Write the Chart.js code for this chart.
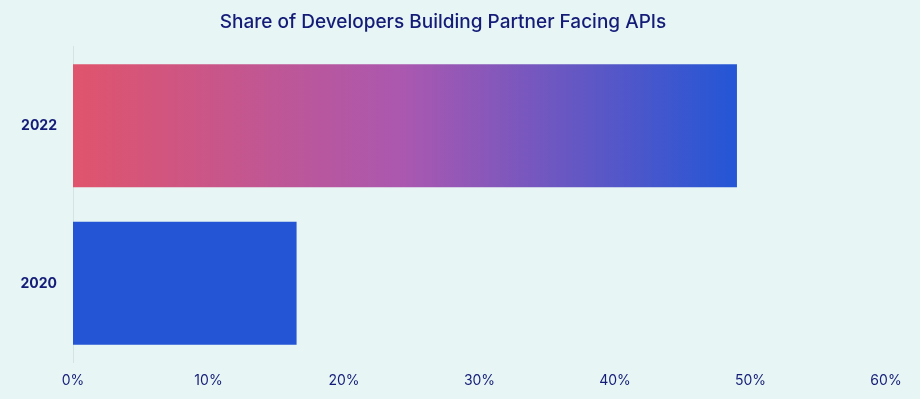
<!DOCTYPE html>
<html>
<head>
<meta charset="utf-8">
<script src="https://cdn.jsdelivr.net/npm/chart.js@4"></script>
<style>
  html, body { margin: 0; padding: 0; background: #e7f6f4; }
  #wrap { width: 920px; height: 399px; position: relative; }
</style>
</head>
<body>
<div id="wrap"><canvas id="c"></canvas></div>
<script>
  // data
  const years = ["2022", "2020"];
  const shares = [49, 16.5];
  const xTicks = [0, 10, 20, 30, 40, 50, 60];

  const navy = "#141c78";

  function barFill(ctx) {
    const chart = ctx.chart;
    const a = chart.chartArea;
    if (!a) return "#2355d4";
    if (ctx.dataIndex === 1) return "#2355d4";
    const x = chart.scales.x;
    const g = chart.ctx.createLinearGradient(x.getPixelForValue(0), 0, x.getPixelForValue(shares[0]), 0);
    g.addColorStop(0, "#e0546c");
    g.addColorStop(0.5, "#aa58b0");
    g.addColorStop(1, "#2356d6");
    return g;
  }

  new Chart(document.getElementById("c"), {
    type: "bar",
    data: {
      labels: years,
      datasets: [{
        data: shares,
        backgroundColor: barFill,
        barPercentage: 0.78,
        categoryPercentage: 1,
        borderWidth: 0,
      }],
    },
    options: {
      indexAxis: "y",
      responsive: true,
      maintainAspectRatio: false,
      animation: false,
      layout: { padding: { left: 0, right: 34, top: 5, bottom: 8 } },
      plugins: {
        legend: { display: false },
        tooltip: { enabled: false },
        title: {
          display: true,
          text: "Share of Developers Building Partner Facing APIs",
          color: navy,
          font: { family: "Inter", size: 19, weight: "500" },
          padding: { top: 6, bottom: 13 },
        },
      },
      scales: {
        x: {
          min: 0,
          max: 60,
          afterBuildTicks: (s) => { s.ticks = xTicks.map((v) => ({ value: v })); },
          grid: { display: false },
          border: { display: false },
          ticks: {
            color: navy,
            font: { family: "Inter", size: 14 },
            padding: 2,
            callback: (v) => v + "%",
          },
        },
        y: {
          afterFit: (s) => { s.width = 73; },
          grid: { display: false },
          border: { display: true, color: "#d3e4e3", width: 1 },
          ticks: {
            color: navy,
            font: { family: "Inter", size: 14, weight: "bold" },
            padding: 8,
          },
        },
      },
    },
  });
</script>
</body>
</html>
